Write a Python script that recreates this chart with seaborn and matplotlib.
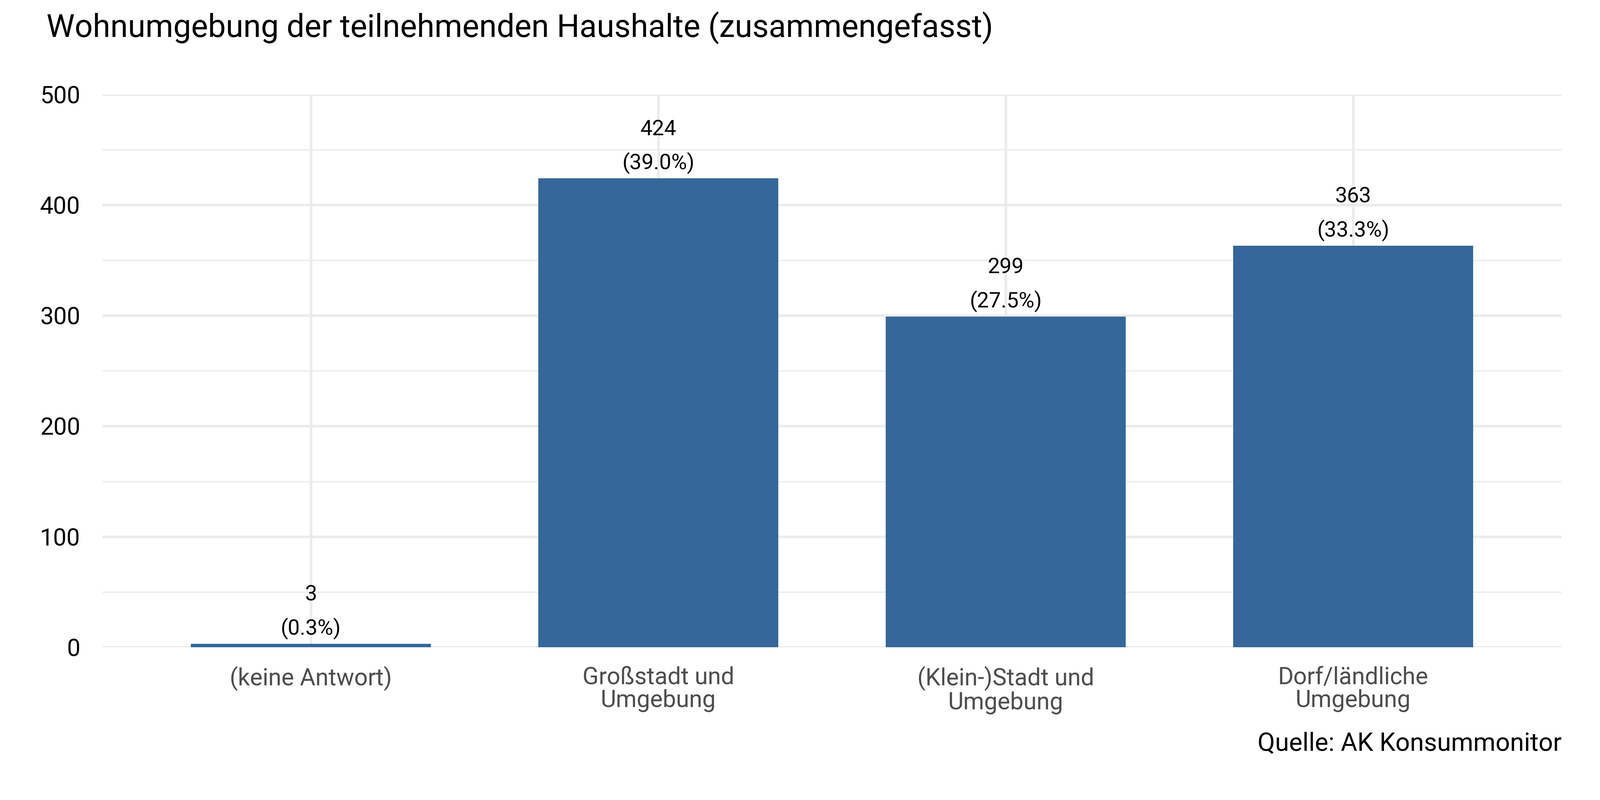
import matplotlib.pyplot as plt
import seaborn as sns
import pandas as pd

plt.rcParams['font.family'] = 'Roboto'

categories = ["(keine Antwort)", "Großstadt und\nUmgebung", "(Klein-)Stadt und\nUmgebung", "Dorf/ländliche\nUmgebung"]
counts = [3, 424, 299, 363]
percents = ["0.3%", "39.0%", "27.5%", "33.3%"]

df = pd.DataFrame({"cat": categories, "n": counts})

fig = plt.figure(figsize=(14, 7), dpi=300)
ax = fig.add_axes([0.064, 0.191, 0.912, 0.691])

sns.barplot(data=df, x="cat", y="n", color="#35679A", saturation=1, width=0.69, ax=ax, zorder=3)

for i, (n, p) in enumerate(zip(counts, percents)):
    ax.text(i, n + 4, f"{n}\n({p})", ha="center", va="bottom", fontsize=13.5,
            linespacing=1.75, color="black", zorder=4)

ax.set_xlim(-0.6, 3.6)
ax.set_ylim(0, 500)
ax.set_yticks(range(0, 501, 100))
ax.set_yticks(range(50, 500, 100), minor=True)
ax.grid(True, which="major", color="#ebebeb", linewidth=1.6, zorder=0)
ax.grid(True, which="minor", axis="y", color="#ebebeb", linewidth=0.8, zorder=0)
ax.set_axisbelow(True)
ax.tick_params(axis="both", which="both", length=0)
ax.tick_params(axis="x", labelsize=15, colors="#4d4d4d", pad=12)
ax.tick_params(axis="y", labelsize=15, colors="black", pad=14)
for lab in ax.get_xticklabels():
    lab.set_linespacing(1.0)
ax.set_xlabel("")
ax.set_ylabel("")
sns.despine(ax=ax, left=True, bottom=True)

fig.text(0.029, 0.945, "Wohnumgebung der teilnehmenden Haushalte (zusammengefasst)",
         fontsize=20, ha="left", va="bottom")
fig.text(0.976, 0.055, "Quelle: AK Konsummonitor", fontsize=16, ha="right", va="bottom")

fig.savefig("out.png", dpi=300)
